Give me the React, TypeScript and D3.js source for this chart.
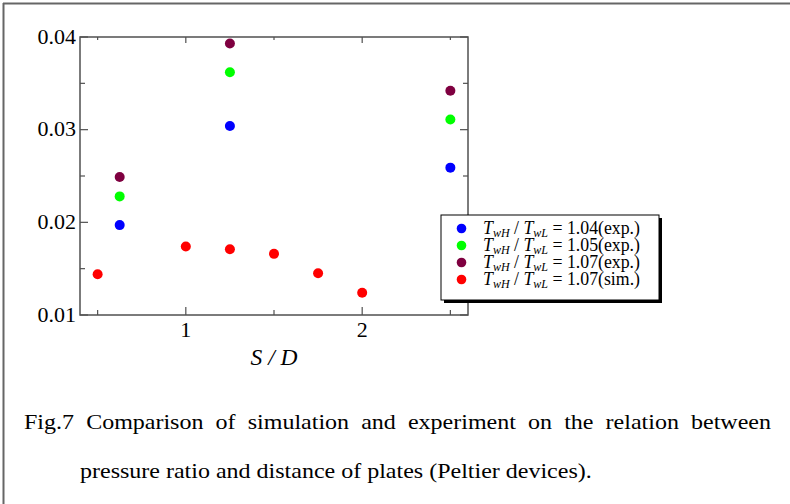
import React, { useLayoutEffect, useRef } from "react";
import * as d3 from "d3";

const expX = [0.625, 1.25, 2.5];
const exp104 = [0.0197, 0.0304, 0.0259];
const exp105 = [0.0228, 0.0362, 0.0311];
const exp107 = [0.0249, 0.0393, 0.0342];
const simX = [0.5, 1.0, 1.25, 1.5, 1.75, 2.0];
const sim107 = [0.0144, 0.0174, 0.0171, 0.0166, 0.0145, 0.0124];

const yTickValues = [0.01, 0.02, 0.03, 0.04];
const yTickLabels = ["0.01", "0.02", "0.03", "0.04"];
const yMinorTicks = [0.015, 0.025, 0.035];
const xTickValues = [1, 2];
const xTickLabels = ["1", "2"];
const xMinorTicks = [0.5, 1.5, 2.5];

const legendValues = ["1.04(exp.)", "1.05(exp.)", "1.07(exp.)", "1.07(sim.)"];
const legendColors = ["#0000ff", "#00ff00", "#7f0040", "#ff0000"];

const captionLine1 = "Fig.7 Comparison of simulation and experiment on the relation between";
const captionLine2 = "pressure ratio and distance of plates (Peltier devices).";

const W = 790;
const H = 504;
const plot = { left: 80, right: 468, top: 37, bottom: 315 };
const FONT = "'Liberation Serif', 'Times New Roman', serif";
const AXIS = "#505050";

export default function App() {
  const cap1 = useRef<SVGTextElement>(null);
  const cap2 = useRef<SVGTextElement>(null);
  const g1 = useRef<SVGGElement>(null);
  const g2 = useRef<SVGGElement>(null);

  const x = d3.scaleLinear().domain([0.4, 2.6]).range([plot.left, plot.right]);
  const y = d3.scaleLinear().domain([0.01, 0.04]).range([plot.bottom, plot.top]);

  useLayoutEffect(() => {
    const t1 = cap1.current;
    const t2 = cap2.current;
    if (!t1 || !t2 || !g1.current || !g2.current) return;
    const n2 = t2.getComputedTextLength();
    const sx = 512 / n2;
    g1.current.setAttribute("transform", `translate(24,429) scale(${sx},1)`);
    g2.current.setAttribute("transform", `translate(80,478) scale(${sx},1)`);
    t1.setAttribute("word-spacing", "0");
    const n1 = t1.getComputedTextLength();
    const gaps = captionLine1.split(" ").length - 1;
    const target = (771 - 24) / sx;
    t1.setAttribute("word-spacing", String((target - n1) / gaps));
  }, []);

  const series = [
    { xs: expX, ys: exp104, color: legendColors[0] },
    { xs: expX, ys: exp105, color: legendColors[1] },
    { xs: expX, ys: exp107, color: legendColors[2] },
    { xs: simX, ys: sim107, color: legendColors[3] },
  ];

  const major = 8;
  const minor = 5;

  const ticks: React.ReactNode[] = [];
  const allY = [...yTickValues.map((v) => [v, major]), ...yMinorTicks.map((v) => [v, minor])];
  allY.forEach(([v, len], i) => {
    const yy = y(v);
    ticks.push(<line key={"yl" + i} x1={plot.left} x2={plot.left + len} y1={yy} y2={yy} stroke={AXIS} strokeWidth={1.2} />);
    ticks.push(<line key={"yr" + i} x1={plot.right} x2={plot.right - len} y1={yy} y2={yy} stroke={AXIS} strokeWidth={1.2} />);
  });
  const allX = [...xTickValues.map((v) => [v, major]), ...xMinorTicks.map((v) => [v, minor])];
  allX.forEach(([v, len], i) => {
    const xx = x(v);
    ticks.push(<line key={"xb" + i} x1={xx} x2={xx} y1={plot.bottom} y2={plot.bottom - len} stroke={AXIS} strokeWidth={1.2} />);
    ticks.push(<line key={"xt" + i} x1={xx} x2={xx} y1={plot.top} y2={plot.top + len - 2} stroke={AXIS} strokeWidth={1.2} />);
  });

  const lg = { x: 441, y: 215, w: 218, h: 85 };

  return (
    <svg
      width={W}
      height={H}
      style={{ position: "absolute", left: 0, top: 0, background: "#fff" }}
      fontFamily={FONT}
    >
      <rect x={0} y={0} width={W} height={H} fill="#fff" />
      {/* outer frame */}
      <line x1={3.5} x2={3.5} y1={3} y2={H} stroke="#666" strokeWidth={2} />
      <line x1={3} x2={W} y1={3.5} y2={3.5} stroke="#666" strokeWidth={2} />

      {/* plot frame */}
      <rect
        x={plot.left}
        y={plot.top}
        width={plot.right - plot.left}
        height={plot.bottom - plot.top}
        fill="none"
        stroke={AXIS}
        strokeWidth={1.5}
      />
      {ticks}

      {yTickValues.map((v, i) => (
        <text key={"ytl" + i} x={76} y={y(v) + 6.5} fontSize={22} textAnchor="end" fill="#000">
          {yTickLabels[i]}
        </text>
      ))}
      {xTickValues.map((v, i) => (
        <text key={"xtl" + i} x={x(v)} y={337} fontSize={22} textAnchor="middle" fill="#000">
          {xTickLabels[i]}
        </text>
      ))}
      <text x={(plot.left + plot.right) / 2} y={365} fontSize={23.5} textAnchor="middle" fontStyle="italic" fill="#000">
        S / D
      </text>

      {series.map((s, si) =>
        s.xs.map((xv, i) => (
          <circle key={"p" + si + "-" + i} cx={x(xv)} cy={y(s.ys[i])} r={5} fill={s.color} />
        ))
      )}

      {/* legend */}
      <rect x={lg.x + 3} y={lg.y + 3} width={lg.w} height={lg.h} fill="#000" />
      <rect x={lg.x} y={lg.y} width={lg.w} height={lg.h} fill="#fff" stroke="#000" strokeWidth={1} />
      {legendValues.map((v, i) => {
        const cy = 228.5 + i * 17;
        return (
          <g key={"lg" + i}>
            <circle cx={461.5} cy={cy} r={4.8} fill={legendColors[i]} />
            <text x={483} y={cy + 5.5} fontSize={17.8} fill="#000">
              <tspan fontStyle="italic">T</tspan>
              <tspan fontStyle="italic" fontSize={12} dy={3}>wH</tspan>
              <tspan dy={-3}> / </tspan>
              <tspan fontStyle="italic">T</tspan>
              <tspan fontStyle="italic" fontSize={12} dy={3}>wL</tspan>
              <tspan dy={-3}>{" = " + v}</tspan>
            </text>
          </g>
        );
      })}

      {/* caption */}
      <g ref={g1} transform="translate(24,429)">
        <text ref={cap1} x={0} y={0} fontSize={22} fill="#000">
          {captionLine1}
        </text>
      </g>
      <g ref={g2} transform="translate(80,478)">
        <text ref={cap2} x={0} y={0} fontSize={22} fill="#000">
          {captionLine2}
        </text>
      </g>
    </svg>
  );
}
